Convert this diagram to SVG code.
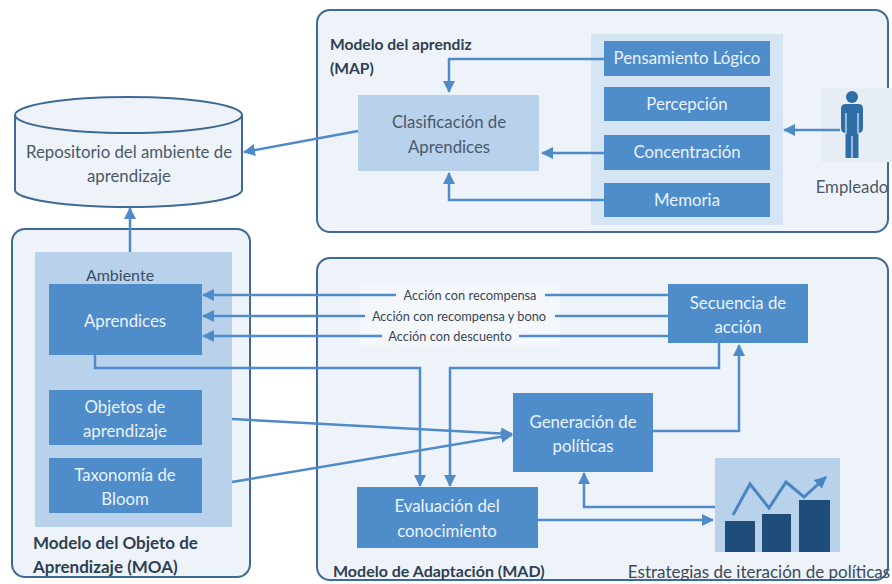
<svg xmlns="http://www.w3.org/2000/svg" width="892" height="584" viewBox="0 0 892 584">
<style>
text{font-family:Lato,"Open Sans","Liberation Sans",sans-serif}
.panel{fill:#eef3f9;stroke:#3f6a94;stroke-width:2}
.mid{fill:#4f8dca}
.light{fill:#b8d2eb}
.col{fill:#d6e5f3}
.tw{fill:#eaf2fb;font-size:16.8px;text-anchor:middle}
.td{fill:#4a596a;font-size:16.8px;text-anchor:middle}
.title{fill:#2e3f52;font-size:16px;font-weight:bold}
.lbl{fill:#3a4654;font-size:12.8px;text-anchor:middle}
.cn{fill:none;stroke:#4f8bc9;stroke-width:2.5}
.lbg{fill:#f4f8fc}
</style>
<defs>
<marker id="ah" markerUnits="userSpaceOnUse" markerWidth="12" markerHeight="12" refX="11" refY="6" orient="auto">
<path d="M0,0 L12,6 L0,12 z" fill="#4f8bc9"/>
</marker>
<marker id="ah2" markerUnits="userSpaceOnUse" markerWidth="12" markerHeight="12" refX="11" refY="6" orient="auto">
<path d="M0,0 L12,6 L0,12 z" fill="#4a85c0"/>
</marker>
</defs>

<!-- Panels -->
<g id="panel-map">
<rect class="panel" x="317" y="10" width="571" height="222" rx="13"/>
<text class="title" x="330" y="50" style="font-size:15.6px">Modelo del aprendiz</text>
<text class="title" x="330" y="74" style="font-size:15.6px">(MAP)</text>
<rect class="col" x="591" y="34" width="192" height="191"/>
</g>
<g id="panel-moa">
<rect class="panel" x="12" y="229" width="238" height="348" rx="13"/>
<rect class="light" x="35" y="252" width="197" height="275"/>
<text x="120" y="281" class="td" style="fill:#3d4f62;font-size:16px">Ambiente</text>
<text class="title" x="33" y="549" style="font-size:17px">Modelo del Objeto de</text>
<text class="title" x="33" y="573" style="font-size:17px">Aprendizaje (MOA)</text>
</g>
<g id="panel-mad">
<rect class="panel" x="317" y="258" width="571" height="322" rx="13"/>
<text class="title" x="333" y="577">Modelo de Adaptación (MAD)</text>
<rect x="360" y="283" width="200" height="62" class="lbg"/>
</g>

<!-- Nodes -->
<g id="repositorio">
<path d="M15,115 V190 A113.5,17 0 0 0 242,190 V115" fill="#eef3f9" stroke="#3f6a94" stroke-width="2"/>
<ellipse cx="128.5" cy="115" rx="113.5" ry="18" fill="#eef3f9" stroke="#3f6a94" stroke-width="2"/>
<text class="td" x="129" y="158" style="font-size:16.8px">Repositorio del ambiente de</text>
<text class="td" x="129" y="182" style="font-size:16.8px">aprendizaje</text>
</g>
<g id="clasificacion">
<rect class="light" x="358" y="95" width="181" height="76"/>
<text class="td" x="449" y="128">Clasificación de</text>
<text class="td" x="449" y="153">Aprendices</text>
</g>
<g id="pensamiento">
<rect class="mid" x="604" y="41" width="166" height="35"/>
<text class="tw" x="687" y="64">Pensamiento Lógico</text>
</g>
<g id="percepcion">
<rect class="mid" x="604" y="87" width="166" height="34"/>
<text class="tw" x="687" y="110">Percepción</text>
</g>
<g id="concentracion">
<rect class="mid" x="604" y="135" width="166" height="35"/>
<text class="tw" x="687" y="158">Concentración</text>
</g>
<g id="memoria">
<rect class="mid" x="604" y="183" width="166" height="34"/>
<text class="tw" x="687" y="206">Memoria</text>
</g>
<g id="empleado">
<rect x="821" y="88" width="71" height="74" fill="#e6edf4"/>
<g fill="#2f6da6">
<circle cx="852" cy="97" r="6"/>
<rect x="841" y="104" width="22" height="29" rx="4.5"/>
<rect x="845.5" y="128" width="13" height="30" rx="1"/>
</g>
<path d="M846,113 V134 M858,113 V134 M852,136 V158" stroke="#e6edf4" stroke-width="1.2"/>
<text x="852" y="193" style="fill:#4a596a;font-size:16.8px;text-anchor:middle">Empleado</text>
</g>
<g id="aprendices">
<rect class="mid" x="49" y="284" width="153" height="71"/>
<text class="tw" x="125" y="327">Aprendices</text>
</g>
<g id="objetos">
<rect class="mid" x="49" y="390" width="153" height="55"/>
<text class="tw" x="125" y="413">Objetos de</text>
<text class="tw" x="125" y="437">aprendizaje</text>
</g>
<g id="taxonomia">
<rect class="mid" x="49" y="458" width="153" height="55"/>
<text class="tw" x="125" y="481">Taxonomía de</text>
<text class="tw" x="125" y="505">Bloom</text>
</g>
<g id="secuencia">
<rect class="mid" x="668" y="284" width="140" height="59"/>
<text class="tw" x="738" y="309">Secuencia de</text>
<text class="tw" x="738" y="333">acción</text>
</g>
<g id="generacion">
<rect class="mid" x="513" y="393" width="140" height="79"/>
<text class="tw" x="583" y="428">Generación de</text>
<text class="tw" x="583" y="452">políticas</text>
</g>
<g id="evaluacion">
<rect class="mid" x="357" y="487" width="181" height="61"/>
<text class="tw" x="447" y="512">Evaluación del</text>
<text class="tw" x="447" y="537">conocimiento</text>
</g>
<g id="estrategias">
<rect class="light" x="715" y="458" width="125" height="94"/>
<g fill="#1f4d7a">
<rect x="725" y="521" width="30" height="31"/>
<rect x="762" y="514" width="29" height="38"/>
<rect x="799" y="500" width="31" height="52"/>
</g>
<polyline points="733,515 750,484 769,508 786,482 804,497 826,477" fill="none" stroke="#4a85c0" stroke-width="3" marker-end="url(#ah2)"/>
<text x="759" y="578" style="fill:#3a4a5c;font-size:17px;text-anchor:middle">Estrategias de iteración de políticas</text>
</g>

<!-- Connectors -->
<g id="connectors">
<path class="cn" d="M604,59 H449 V92" marker-end="url(#ah)"/>
<path class="cn" d="M604,153 H542" marker-end="url(#ah)"/>
<path class="cn" d="M604,200 H449 V173" marker-end="url(#ah)"/>
<path class="cn" d="M840,130 H784" marker-end="url(#ah)"/>
<path class="cn" d="M358,131 L244,152" marker-end="url(#ah)"/>
<path class="cn" d="M130,252 V208" marker-end="url(#ah)"/>
<path class="cn" d="M668,295 H203" marker-end="url(#ah)"/>
<path class="cn" d="M668,316 H203" marker-end="url(#ah)"/>
<path class="cn" d="M668,336 H203" marker-end="url(#ah)"/>
<path class="cn" d="M95,355 V368 H420 V486" marker-end="url(#ah)"/>
<path class="cn" d="M719,343 V368 H450 V486" marker-end="url(#ah)"/>
<path class="cn" d="M232,419 L512,434" marker-end="url(#ah)"/>
<path class="cn" d="M232,482 L512,435" marker-end="url(#ah)"/>
<path class="cn" d="M653,431 H739 V345" marker-end="url(#ah)"/>
<path class="cn" d="M538,520 H713" marker-end="url(#ah)"/>
<path class="cn" d="M715,507 H584 V473" marker-end="url(#ah)"/>
<rect class="lbg" x="396" y="288" width="149" height="14"/>
<text class="lbl" x="470" y="299.5">Acción con recompensa</text>
<rect class="lbg" x="365" y="309" width="190" height="14"/>
<text class="lbl" x="459" y="320.5">Acción con recompensa y bono</text>
<rect class="lbg" x="382" y="329" width="137" height="14"/>
<text class="lbl" x="450" y="340.5">Acción con descuento</text>
</g>
</svg>
